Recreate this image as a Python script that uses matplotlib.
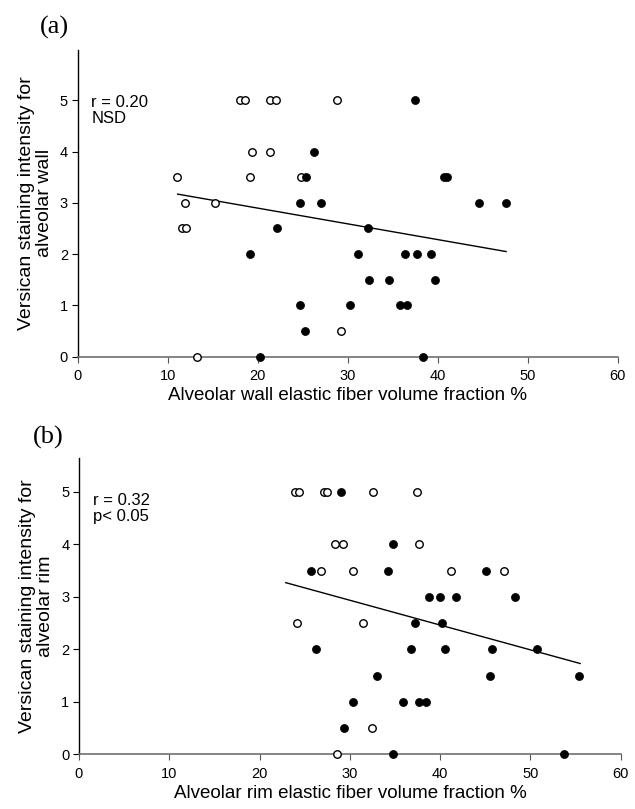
import matplotlib
matplotlib.use("Agg")
import matplotlib.pyplot as plt

# Panel (a): alveolar wall
a_open_x = [18.0, 18.6, 21.4, 22.0, 28.8, 19.4, 21.4, 11.0, 19.1, 24.8,
            11.9, 15.3, 11.6, 12.0, 29.3, 13.2]
a_open_y = [5, 5, 5, 5, 5, 4, 4, 3.5, 3.5, 3.5,
            3, 3, 2.5, 2.5, 0.5, 0]
a_fill_x = [37.5, 26.3, 25.4, 40.7, 41.0, 24.7, 27.0, 44.6, 47.6, 22.1,
            32.2, 19.1, 31.1, 36.4, 37.7, 39.3, 32.4, 34.6, 39.7, 24.7,
            30.3, 35.8, 36.6, 25.3, 20.3, 38.4]
a_fill_y = [5, 4, 3.5, 3.5, 3.5, 3, 3, 3, 3, 2.5,
            2.5, 2, 2, 2, 2, 2, 1.5, 1.5, 1.5, 1,
            1, 1, 1, 0.5, 0, 0]
a_fit_x = [11.1, 47.6]
a_fit_y = [3.17, 2.05]

# Panel (b): alveolar rim
b_open_x = [23.9, 24.4, 27.1, 27.5, 32.6, 37.4, 28.4, 29.2, 37.7, 26.8,
            30.3, 41.2, 47.1, 24.1, 31.5, 32.5, 28.6]
b_open_y = [5, 5, 5, 5, 5, 5, 4, 4, 4, 3.5,
            3.5, 3.5, 3.5, 2.5, 2.5, 0.5, 0]
b_fill_x = [29.0, 34.8, 25.7, 34.2, 45.1, 38.8, 40.0, 41.7, 48.3, 37.2,
            40.2, 26.3, 36.8, 40.5, 45.7, 50.7, 33.0, 45.5, 55.4, 30.3,
            35.9, 37.7, 38.4, 29.3, 34.8, 53.7]
b_fill_y = [5, 4, 3.5, 3.5, 3.5, 3, 3, 3, 3, 2.5,
            2.5, 2, 2, 2, 2, 2, 1.5, 1.5, 1.5, 1,
            1, 1, 1, 0.5, 0, 0]
b_fit_x = [22.9, 55.5]
b_fit_y = [3.27, 1.73]

x_ticks = [0, 10, 20, 30, 40, 50, 60]
y_ticks = [0, 1, 2, 3, 4, 5]

plt.rcParams["font.family"] = ["Liberation Sans", "DejaVu Sans"]

fig = plt.figure(figsize=(6.35, 8.09), dpi=100)
ax_a = fig.add_axes([0.1224, 0.5591, 0.8504, 0.3791])
ax_b = fig.add_axes([0.1244, 0.0676, 0.8532, 0.3666])

panels = [
    (ax_a, a_open_x, a_open_y, a_fill_x, a_fill_y, a_fit_x, a_fit_y, 5.98,
     "Versican staining intensity for\nalveolar wall",
     "Alveolar wall elastic fiber volume fraction %", "r = 0.20\nNSD", "(a)",
     0.853, -0.07, 1.073),
    (ax_b, b_open_x, b_open_y, b_fill_x, b_fill_y, b_fit_x, b_fit_y, 5.65,
     "Versican staining intensity for\nalveolar rim",
     "Alveolar rim elastic fiber volume fraction %", "r = 0.32\np< 0.05", "(b)",
     0.881, -0.085, 1.07),
]

for ax, ox, oy, fx, fy, lx, ly, ytop, ylab, xlab, stat, tag, sy, tx, ty in panels:
    ax.plot(lx, ly, color="black", lw=1.0, zorder=2)
    ax.plot(ox, oy, "o", ms=5.4, mfc="white", mec="black", mew=1.0,
            ls="none", clip_on=False, zorder=3)
    ax.plot(fx, fy, "o", ms=5.8, mfc="black", mec="black", mew=0.5,
            ls="none", clip_on=False, zorder=3)
    ax.set_xlim(0, 60)
    ax.set_ylim(0, ytop)
    ax.set_xticks(x_ticks)
    ax.set_yticks(y_ticks)
    for s in ("top", "right"):
        ax.spines[s].set_visible(False)
    ax.spines["left"].set_color("black")
    ax.spines["bottom"].set_color("#707070")
    ax.spines["left"].set_linewidth(1.0)
    ax.spines["bottom"].set_linewidth(1.2)
    ax.tick_params(axis="x", direction="out", length=4, color="#555555",
                   labelsize=10.5, pad=5)
    ax.tick_params(axis="y", direction="out", length=4, color="black",
                   labelsize=10.5, pad=3)
    ax.set_ylabel(ylab, fontsize=14, linespacing=1.05, labelpad=5,
                  multialignment="center")
    ax.set_xlabel(xlab, fontsize=13.5, labelpad=3)
    ax.text(0.025, sy, stat, transform=ax.transAxes,
            fontsize=12, va="top", ha="left", linespacing=1.1)
    ax.text(tx, ty, tag, transform=ax.transAxes,
            fontsize=19, family="Liberation Serif", va="center", ha="left")

fig.savefig("out.png", dpi=100)
